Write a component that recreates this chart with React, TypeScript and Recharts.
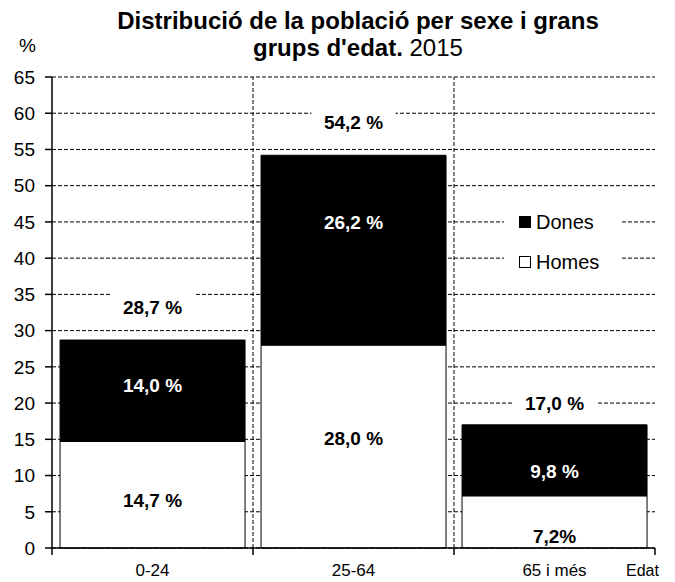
import React from 'react'
import { BarChart, Bar, XAxis, YAxis, CartesianGrid, LabelList } from 'recharts'

const categories = ['0-24', '25-64', '65 i més']
const homes = [14.7, 28.0, 7.2]
const dones = [14.0, 26.2, 9.8]
const totals = [28.7, 54.2, 17.0]
const homesText = ['14,7 %', '28,0 %', '7,2%']
const donesText = ['14,0 %', '26,2 %', '9,8 %']
const totalText = ['28,7 %', '54,2 %', '17,0 %']
const yTicks = [0, 5, 10, 15, 20, 25, 30, 35, 40, 45, 50, 55, 60, 65]

// pixel nudges of the value labels, to sit where the original puts them
const homesShift = [6, -8, 15]
const donesShift = [-5, -28, 11]
const totalShift = [-33, -33, -21]

const W = 675
const H = 582
const MARGIN = { top: 77, right: 20, bottom: 0, left: 0 }
const Y_AXIS_W = 52
const X_AXIS_H = 34
const PLOT_W = W - MARGIN.left - MARGIN.right - Y_AXIS_W
const PLOT_H = H - MARGIN.top - MARGIN.bottom - X_AXIS_H
const BAND = PLOT_W / categories.length
const FONT = '"Liberation Sans", Arial, sans-serif'

const data = categories.map((cat, i) => ({
  cat,
  homes: homes[i],
  dones: dones[i],
  total: totals[i],
}))

function CategoryTick(props: any) {
  const { x, y, payload, index } = props
  const left = x - BAND / 2
  const right = x + BAND / 2
  return (
    <g>
      {index > 0 && (
        <line x1={left} x2={left} y1={y} y2={y - PLOT_H} stroke="#000" strokeDasharray="4 2" />
      )}
      <line x1={left} x2={left} y1={y} y2={y + 7} stroke="#000" strokeWidth={1.5} />
      {index === categories.length - 1 && (
        <line x1={right} x2={right} y1={y} y2={y + 7} stroke="#000" strokeWidth={1.5} />
      )}
      <text x={x} y={y + 28} textAnchor="middle" fontSize={17} fontFamily={FONT} fill="#000">
        {payload.value}
      </text>
    </g>
  )
}

const segmentLabel = (texts: string[], shifts: number[], color: string) => (props: any) => {
  const { x, y, width, height, index } = props
  return (
    <text
      x={x + width / 2}
      y={y + height / 2 + shifts[index]}
      fill={color}
      textAnchor="middle"
      dominantBaseline="central"
      fontWeight="bold"
      fontSize={19}
      fontFamily={FONT}
    >
      {texts[index]}
    </text>
  )
}

const totalLabel = (props: any) => {
  const { x, y, width, index } = props
  const cx = x + width / 2
  const cy = y + totalShift[index]
  return (
    <g>
      <rect x={cx - 42} y={cy - 15} width={84} height={30} fill="#fff" />
      <text
        x={cx}
        y={cy}
        textAnchor="middle"
        dominantBaseline="central"
        fontWeight="bold"
        fontSize={19}
        fontFamily={FONT}
        fill="#000"
      >
        {totalText[index]}
      </text>
    </g>
  )
}

export default function App() {
  return (
    <div style={{ position: 'absolute', left: 0, top: 0, width: W, height: H, background: '#fff', fontFamily: FONT }}>
      <div style={{ position: 'absolute', left: 0, width: 716, top: 7, textAlign: 'center', fontSize: 24, lineHeight: '27px', color: '#000' }}>
        <b>Distribució de la població per sexe i grans</b>
        <br />
        <b>grups d'edat.</b> 2015
      </div>
      <div style={{ position: 'absolute', left: 19, top: 35, fontSize: 19 }}>%</div>

      <BarChart width={W} height={H} data={data} margin={MARGIN} barCategoryGap="4%">
        <CartesianGrid horizontal vertical={false} stroke="#000" strokeDasharray="4 2" />
        <XAxis
          dataKey="cat"
          height={X_AXIS_H}
          tick={<CategoryTick />}
          tickLine={false}
          tickSize={0}
          tickMargin={0}
          interval={0}
          axisLine={{ stroke: '#000', strokeWidth: 1.5 }}
        />
        <YAxis
          width={Y_AXIS_W}
          domain={[0, 65]}
          ticks={yTicks}
          interval={0}
          tickSize={7}
          tickMargin={10}
          tick={{ fill: '#000', fontSize: 19, fontFamily: FONT }}
          tickLine={{ stroke: '#000', strokeWidth: 1.5 }}
          axisLine={{ stroke: '#000', strokeWidth: 1.5 }}
        />
        <YAxis
          yAxisId="right"
          orientation="right"
          width={0}
          domain={[0, 65]}
          tick={false}
          tickLine={false}
          axisLine={{ stroke: '#000', strokeWidth: 1.5 }}
        />
        <Bar dataKey="homes" stackId="a" fill="#fff" stroke="#000" strokeWidth={1} isAnimationActive={false}>
          <LabelList dataKey="homes" content={segmentLabel(homesText, homesShift, '#000')} />
        </Bar>
        <Bar dataKey="dones" stackId="a" fill="#000" stroke="#000" strokeWidth={1} isAnimationActive={false}>
          <LabelList dataKey="dones" content={segmentLabel(donesText, donesShift, '#fff')} />
          <LabelList dataKey="total" content={totalLabel} />
        </Bar>
      </BarChart>

      <div style={{ position: 'absolute', left: 504, top: 202, width: 116, background: '#fff', fontSize: 20, color: '#000' }}>
        <div style={{ height: 40, display: 'flex', alignItems: 'center', paddingLeft: 15 }}>
          <span style={{ width: 12, height: 12, background: '#000', border: '1px solid #000', boxSizing: 'border-box', marginRight: 5 }} />
          Dones
        </div>
        <div style={{ height: 40, display: 'flex', alignItems: 'center', paddingLeft: 15 }}>
          <span style={{ width: 12, height: 12, background: '#fff', border: '1px solid #000', boxSizing: 'border-box', marginRight: 5 }} />
          Homes
        </div>
      </div>
      <div style={{ position: 'absolute', left: 626, top: 562, fontSize: 16 }}>Edat</div>
    </div>
  )
}
